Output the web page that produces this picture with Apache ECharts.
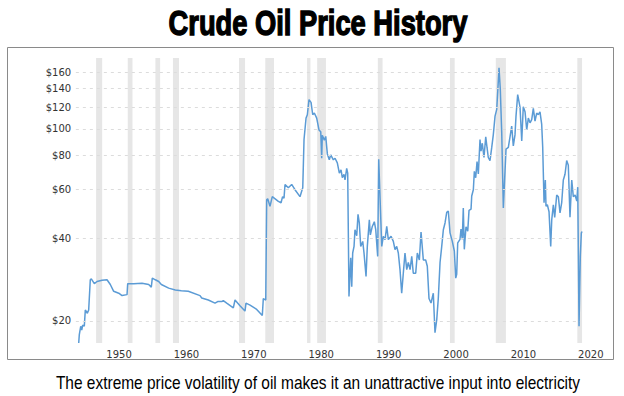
<!DOCTYPE html>
<html>
<head>
<meta charset="utf-8">
<script src="https://cdn.jsdelivr.net/npm/echarts@6/dist/echarts.min.js"></script>
<style>
  html, body { margin: 0; padding: 0; background: #fff; }
  #chart { width: 624px; height: 396px; }
</style>
</head>
<body>
<div id="chart"></div>
<script>
// ---- Data (x in the chart's axis years) ----
const years = [
  1944.02, 1944.11, 1944.32, 1944.47, 1944.61, 1944.85, 1945.00, 1945.30, 1945.50, 1945.74,
  1945.89, 1946.34, 1946.74, 1947.48, 1948.22, 1948.71, 1949.21, 1949.96, 1950.45, 1951.19,
  1951.29, 1952.18, 1953.41, 1954.41, 1954.79, 1954.94, 1955.39, 1955.89, 1956.28, 1957.37,
  1958.35, 1959.24, 1960.28, 1962.02, 1962.27, 1963.25, 1964.24, 1964.64, 1965.24, 1965.47,
  1965.98, 1966.96, 1967.21, 1967.95, 1968.69, 1968.84, 1969.44, 1970.43, 1971.26, 1971.41,
  1971.77, 1971.91, 1972.06, 1972.40, 1972.74, 1973.64, 1974.04, 1974.27, 1974.48, 1974.63,
  1975.12, 1975.62, 1976.11, 1976.85, 1977.26, 1977.45, 1977.75, 1977.94, 1978.19, 1978.49,
  1978.74, 1978.98, 1979.33, 1979.67, 1979.93, 1980.07, 1980.16, 1980.46, 1980.67, 1980.91,
  1981.20, 1981.41, 1981.80, 1982.05, 1982.39, 1982.69, 1982.94, 1983.13, 1983.38, 1983.53,
  1983.78, 1983.93, 1984.12, 1984.38, 1984.53, 1984.67, 1984.87, 1985.01, 1985.27, 1985.46,
  1985.65, 1985.86, 1986.16, 1986.35, 1986.65, 1986.84, 1987.14, 1987.29, 1987.58, 1987.88,
  1988.09, 1988.38, 1988.53, 1988.98, 1989.21, 1989.47, 1989.72, 1989.96, 1990.36, 1990.70,
  1990.95, 1991.20, 1991.44, 1991.69, 1991.94, 1992.18, 1992.43, 1992.69, 1992.92, 1993.18,
  1993.43, 1993.66, 1994.02, 1994.26, 1994.56, 1994.81, 1995.15, 1995.50, 1995.74, 1995.99,
  1996.29, 1996.63, 1996.88, 1997.14, 1997.37, 1997.63, 1997.88, 1998.12, 1998.37, 1998.62,
  1998.86, 1999.11, 1999.45, 1999.75, 1999.96, 2000.10, 2000.25, 2000.59, 2000.74, 2000.93,
  2001.08, 2001.23, 2001.48, 2001.74, 2001.93, 2002.23, 2002.33, 2002.57, 2002.72, 2002.92,
  2003.12, 2003.31, 2003.56, 2003.71, 2003.90, 2004.15, 2004.41, 2004.60, 2004.79, 2005.04,
  2005.30, 2005.53, 2005.79, 2006.04, 2006.19, 2006.38, 2006.57, 2006.78, 2007.02, 2007.27,
  2007.42, 2007.76, 2008.01, 2008.26, 2008.50, 2008.75, 2008.90, 2009.15, 2009.50, 2009.75,
  2009.98, 2010.24, 2010.49, 2010.73, 2010.98, 2011.23, 2011.47, 2011.72, 2011.97, 2012.21,
  2012.46, 2012.71, 2012.86, 2013.06, 2013.25, 2013.35, 2013.55, 2013.80, 2014.05, 2014.20,
  2014.44, 2014.64, 2014.94, 2015.18, 2015.43, 2015.68, 2015.92, 2016.17, 2016.42, 2016.66,
  2016.91, 2017.17, 2017.40, 2017.66, 2017.92, 2018.06, 2018.25, 2018.44, 2018.59, 2018.69
];
const prices = [
  16.6, 17.8, 19.1, 18.5, 19.3, 19.1, 21.9, 21.3, 21.9, 28.2,
  28.4, 27.3, 27.8, 28.1, 28.2, 27.1, 25.6, 25.2, 24.7, 24.9,
  27.3, 27.3, 27.4, 27.1, 26.5, 28.6, 28.2, 27.8, 27.1, 26.3,
  25.9, 25.7, 25.6, 24.7, 24.2, 23.8, 23.2, 23.5, 23.5, 23.7,
  23.2, 22.3, 23.8, 22.7, 21.7, 23.2, 22.8, 22.0, 20.9, 24.1,
  23.8, 55.1, 55.6, 52.2, 56.6, 54.4, 53.8, 56.6, 55.9, 62.7,
  61.0, 62.7, 60.0, 56.6, 61.0, 91.4, 109.4, 112.5, 127.6, 124.8,
  112.5, 114.1, 109.4, 99.0, 97.5, 78.1, 94.7, 90.9, 93.8, 81.0,
  77.1, 80.3, 77.1, 78.1, 75.1, 69.0, 70.9, 66.4, 68.3, 65.1,
  71.8, 69.0, 24.5, 33.9, 26.6, 35.3, 37.3, 42.9, 40.8, 48.8,
  45.4, 37.3, 38.9, 35.3, 29.0, 37.3, 46.6, 41.1, 44.1, 45.9,
  42.9, 34.3, 77.4, 37.3, 40.6, 39.5, 44.1, 39.5, 40.6, 38.9,
  36.3, 37.3, 35.3, 30.7, 25.2, 29.8, 35.3, 30.7, 32.6, 30.7,
  34.3, 29.8, 29.8, 35.3, 33.3, 42.1, 33.3, 33.3, 31.6, 24.1,
  23.2, 25.2, 18.1, 20.2, 24.1, 32.6, 37.3, 42.9, 45.4, 49.6,
  50.2, 41.8, 38.9, 35.9, 28.6, 29.5, 38.4, 39.6, 43.1, 39.6,
  51.5, 36.4, 44.0, 42.4, 50.5, 51.0, 56.9, 60.0, 70.0, 66.3,
  75.9, 68.5, 91.4, 82.9, 88.6, 78.6, 93.5, 85.5, 78.6, 76.6,
  85.5, 95.0, 111.2, 117.6, 136.8, 166.6, 139.2, 97.1, 51.5, 70.0,
  84.3, 85.5, 93.5, 102.2, 86.6, 95.0, 111.2, 133.1, 119.6, 90.3,
  120.3, 115.3, 99.1, 109.4, 105.1, 107.9, 118.7, 106.6, 114.1, 112.5,
  115.3, 103.9, 86.0, 53.8, 65.1, 52.2, 52.9, 49.9, 37.3, 46.6,
  52.9, 47.6, 57.4, 56.6, 49.4, 53.8, 65.1, 68.3, 76.6, 73.6,
  47.6, 65.1, 56.6, 57.4, 54.6, 61.3, 19.1, 34.3, 41.7, 42.3
];
const recessionStart = [1946.6, 1951.3, 1955.4, 1958.0, 1967.8, 1971.7, 1977.9, 1979.4, 1988.4, 1999.1, 2005.9, 2018.0];
const recessionEnd   = [1947.5, 1952.0, 1956.1, 1958.9, 1968.7, 1973.0, 1978.4, 1980.7, 1989.1, 1999.8, 2007.4, 2018.7];
const yTicks = [20, 40, 60, 80, 100, 120, 140, 160];
const xTicks = [1950, 1960, 1970, 1980, 1990, 2000, 2010, 2020];
const titleText = 'Crude Oil Price History';
const captionText = 'The extreme price volatility of oil makes it an unattractive input into electricity';

// ---- Chart ----
const chart = echarts.init(document.getElementById('chart'), null, { renderer: 'svg', width: 624, height: 396 });
const X_MIN = 1943.5, X_MAX = 2022;
const GRID_X0 = 1943.6, GRID_X1 = 2018.4;

const lineData = years.map((y, i) => [y, prices[i]]);
const bands = recessionStart.map((s, i) => [{ xAxis: s }, { xAxis: recessionEnd[i] }]);
const gridLines = yTicks.map(v => [{ coord: [GRID_X0, v] }, { coord: [GRID_X1, v] }]);

chart.setOption({
  animation: false,
  backgroundColor: '#ffffff',
  grid: { left: 75.2, right: 19.7, top: 58, bottom: 53 },
  xAxis: {
    type: 'value', min: X_MIN, max: X_MAX,
    axisLine: { show: false }, axisTick: { show: false }, splitLine: { show: false },
    axisLabel: {
      customValues: xTicks, margin: 6,
      formatter: v => String(v),
      fontFamily: 'DejaVu Sans', fontSize: 10, color: '#333'
    }
  },
  yAxis: {
    type: 'log', logBase: 10, min: 16.6, max: 181,
    axisLine: { show: false }, axisTick: { show: false }, splitLine: { show: false },
    axisLabel: {
      customValues: yTicks, margin: 4,
      formatter: v => '$' + Math.round(v),
      fontFamily: 'DejaVu Sans', fontSize: 10, color: '#333'
    }
  },
  graphic: [
    { type: 'rect', silent: true, z: -1,
      shape: { x: 7.5, y: 47.5, width: 606, height: 312 },
      style: { fill: 'none', stroke: '#8a8a8a', lineWidth: 1 } },
    { type: 'text', x: 318, y: 23, scaleX: 0.78, silent: true,
      style: { text: titleText, font: 'bold 35px "Liberation Sans", Arial, sans-serif',
               fill: '#000', stroke: '#000', lineWidth: 1.4, align: 'center', verticalAlign: 'middle' } },
    { type: 'text', x: 318, y: 383, scaleX: 0.86, silent: true,
      style: { text: captionText, font: '18px "Liberation Sans", Arial, sans-serif',
               fill: '#000', align: 'center', verticalAlign: 'middle' } }
  ],
  series: [
    {
      type: 'line', name: 'helpers', data: [], z: 1, silent: true,
      markArea: { silent: true, itemStyle: { color: '#e6e6e6' }, data: bands },
      markLine: { silent: true, symbol: ['none', 'none'], label: { show: false },
        lineStyle: { color: '#dcdcdc', type: [3, 4], width: 1 }, data: gridLines }
    },
    {
      type: 'line', name: 'Crude Oil', data: lineData, z: 3,
      showSymbol: false, symbol: 'none',
      lineStyle: { color: '#5b9bd5', width: 1.5 },
      itemStyle: { color: '#5b9bd5' }
    }
  ]
});
</script>
</body>
</html>
